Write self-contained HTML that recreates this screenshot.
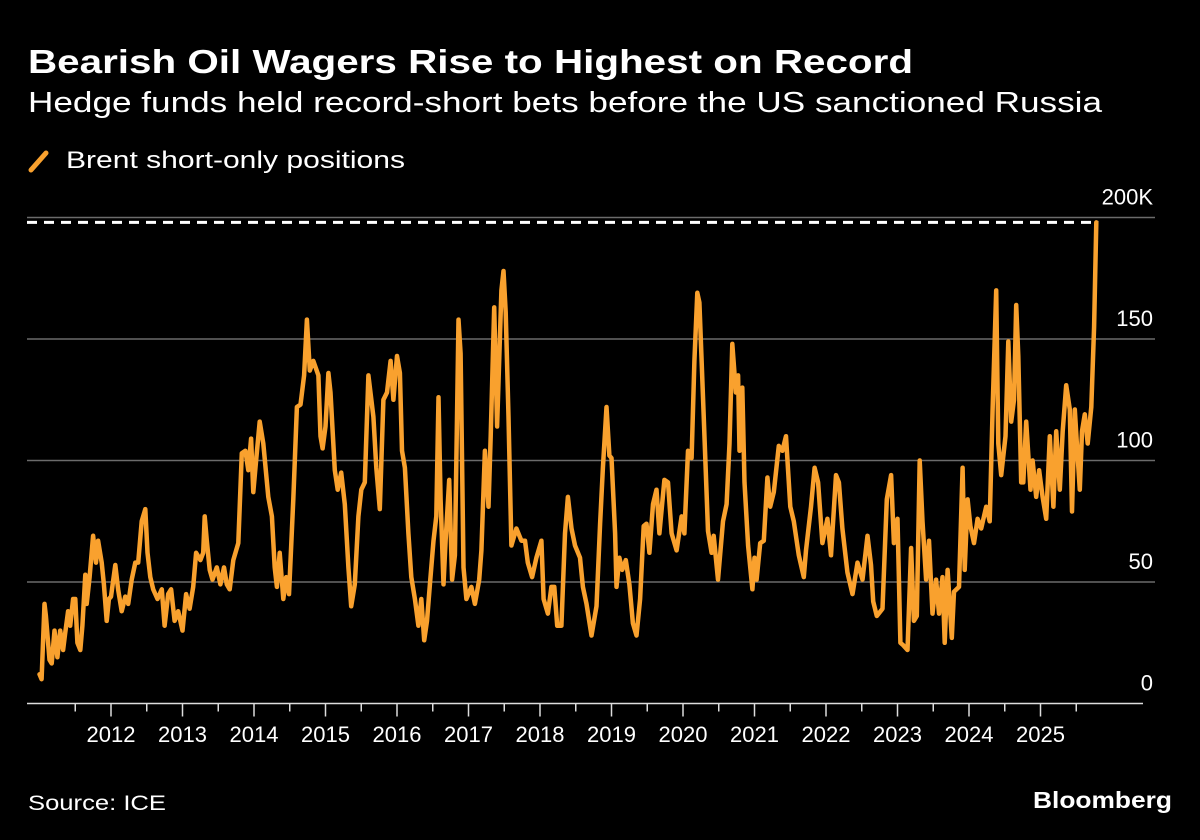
<!DOCTYPE html>
<html><head><meta charset="utf-8">
<style>
html,body{margin:0;padding:0;background:#000;}
svg{display:block;font-family:"Liberation Sans","DejaVu Sans",sans-serif;}
</style></head>
<body>
<svg id="chart" width="1200" height="840" viewBox="0 0 1200 840" xmlns="http://www.w3.org/2000/svg">
<rect width="1200" height="840" fill="#000"/>
<text x="28" y="73" fill="#fff" font-size="33" font-weight="bold" textLength="885" lengthAdjust="spacingAndGlyphs">Bearish Oil Wagers Rise to Highest on Record</text>
<text x="28" y="112" fill="#fff" font-size="29" textLength="1074" lengthAdjust="spacingAndGlyphs">Hedge funds held record-short bets before the US sanctioned Russia</text>
<g>
<line x1="31" y1="170" x2="46" y2="153" stroke="#f9a12e" stroke-width="5" stroke-linecap="round"/>
<text x="66" y="168" fill="#fff" font-size="24" textLength="339" lengthAdjust="spacingAndGlyphs">Brent short-only positions</text>
</g>
<g id="grid"></g>
<g id="ylabels"></g>
<g id="xaxis"></g>
<g id="series"></g>
<text x="28" y="810" fill="#fff" font-size="21" textLength="138" lengthAdjust="spacingAndGlyphs">Source: ICE</text>
<text x="1172" y="808" fill="#fff" font-size="23" font-weight="bold" text-anchor="end" textLength="139" lengthAdjust="spacingAndGlyphs">Bloomberg</text>
</svg>
<script>
const yTicks = [0, 50, 100, 150, 200];
const yTickLabels = ["0", "50", "100", "150", "200K"];
const xYears = [2012,2013,2014,2015,2016,2017,2018,2019,2020,2021,2022,2023,2024,2025];
const recordValue = 198;
const times = [2011.00,2011.03,2011.07,2011.09,2011.14,2011.17,2011.21,2011.25,2011.29,2011.33,2011.36,2011.40,2011.43,2011.47,2011.50,2011.53,2011.57,2011.60,2011.64,2011.66,2011.70,2011.75,2011.79,2011.82,2011.87,2011.90,2011.94,2011.97,2012.00,2012.06,2012.10,2012.15,2012.20,2012.24,2012.29,2012.34,2012.38,2012.43,2012.48,2012.51,2012.55,2012.59,2012.65,2012.71,2012.75,2012.80,2012.84,2012.89,2012.94,2013.00,2013.05,2013.10,2013.15,2013.19,2013.25,2013.29,2013.31,2013.34,2013.38,2013.42,2013.48,2013.53,2013.58,2013.62,2013.66,2013.71,2013.78,2013.83,2013.88,2013.92,2013.96,2013.99,2014.03,2014.08,2014.13,2014.20,2014.25,2014.29,2014.32,2014.36,2014.41,2014.45,2014.49,2014.55,2014.60,2014.65,2014.70,2014.74,2014.78,2014.83,2014.90,2014.93,2014.96,2015.00,2015.04,2015.07,2015.13,2015.17,2015.22,2015.27,2015.32,2015.36,2015.41,2015.46,2015.50,2015.55,2015.60,2015.67,2015.71,2015.76,2015.81,2015.86,2015.91,2015.95,2016.00,2016.04,2016.07,2016.11,2016.16,2016.20,2016.25,2016.30,2016.34,2016.38,2016.42,2016.46,2016.51,2016.55,2016.58,2016.61,2016.65,2016.68,2016.73,2016.77,2016.81,2016.86,2016.89,2016.93,2016.97,2017.04,2017.09,2017.15,2017.18,2017.23,2017.28,2017.31,2017.36,2017.40,2017.46,2017.49,2017.52,2017.56,2017.60,2017.67,2017.74,2017.79,2017.83,2017.89,2017.95,2018.02,2018.05,2018.11,2018.16,2018.20,2018.24,2018.30,2018.35,2018.39,2018.44,2018.49,2018.56,2018.60,2018.65,2018.72,2018.79,2018.84,2018.88,2018.93,2018.97,2019.00,2019.05,2019.07,2019.11,2019.15,2019.20,2019.25,2019.30,2019.35,2019.40,2019.45,2019.49,2019.53,2019.58,2019.63,2019.67,2019.74,2019.79,2019.84,2019.91,2019.98,2020.02,2020.07,2020.12,2020.16,2020.20,2020.23,2020.28,2020.35,2020.40,2020.43,2020.49,2020.56,2020.61,2020.65,2020.69,2020.74,2020.77,2020.79,2020.83,2020.86,2020.91,2020.97,2021.00,2021.03,2021.08,2021.13,2021.18,2021.22,2021.27,2021.34,2021.39,2021.44,2021.50,2021.55,2021.62,2021.69,2021.72,2021.79,2021.84,2021.89,2021.95,2022.02,2022.07,2022.14,2022.18,2022.23,2022.30,2022.37,2022.44,2022.51,2022.58,2022.63,2022.66,2022.71,2022.79,2022.85,2022.91,2022.95,2023.00,2023.04,2023.08,2023.14,2023.19,2023.23,2023.27,2023.31,2023.35,2023.40,2023.44,2023.49,2023.54,2023.58,2023.63,2023.66,2023.70,2023.76,2023.79,2023.86,2023.91,2023.94,2023.98,2024.02,2024.07,2024.12,2024.17,2024.24,2024.29,2024.33,2024.38,2024.41,2024.45,2024.51,2024.55,2024.59,2024.63,2024.66,2024.69,2024.73,2024.76,2024.80,2024.86,2024.89,2024.94,2024.98,2025.03,2025.08,2025.13,2025.18,2025.22,2025.27,2025.31,2025.36,2025.41,2025.44,2025.48,2025.51,2025.55,2025.58,2025.62,2025.66,2025.71,2025.75,2025.78,2025.81];
const values = [12,10,41,36,18,16.5,30,19,30,22,29,38,32,43,43,25,22,32,53,41,52,69,58,67,58,49,34,43,44,57,47,38,44,41,51,58,58,75,80,62,52,47,43,47,32,45,47,34,38,30,45,39,48,62,59,62,77,67,55,51,56,49,56,49,47,59,66,103,104,96,109,87,100,116,107,85,77,56,48,62,43,52,45,84,122,123,135,158,137,141,135,110,105,114,136,128,96,88,95,82,56,40,49,77,88,91,135,118,97,80,125,128,141,125,143,136,104,97,70,52,43,32,43,26,34,49,67,77,126,84,49,67,92,51,61,158,144,56,43,48,41,51,63,104,81,110,163,114,170,178,161,118,65,72,67,67,58,52,60,67,43,37,48,48,32,32,70,85,72,65,60,48,41,28,40,74,97,122,102,101,70,48,60,55,59,49,33,28,43,73,74,62,82,88,70,92,91,70,63,77,70,104,101,141,169,165,126,71,62,69,51,75,82,107,148,128,135,104,130,91,65,47,60,51,66,67,93,81,87,106,104,110,81,75,61,52,63,81,97,91,66,76,61,94,91,72,54,45,58,51,69,57,42,36,39,84,94,66,76,25,24,22,64,34,36,100,75,51,67,37,51,37,52,25,55,27,46,48,97,55,84,73,66,76,72,81,75,121,170,107,94,110,149,116,125,164,143,91,91,116,88,100,85,96,85,76,110,81,112,88,112,131,121,79,121,106,88,112,119,107,122,155,198];

const svgNS = "http://www.w3.org/2000/svg";
const X0 = 39.5, YEAR_W = 71.5, Y0 = 703.5, PX_PER_UNIT = 2.43;
const PLOT_L = 27, PLOT_R = 1155, AXIS_R = 1143;
function xScale(t){ return X0 + (t - 2011) * YEAR_W; }
function yScale(v){ return Y0 - v * PX_PER_UNIT; }
function mk(tag, attrs, parent){
  const el = document.createElementNS(svgNS, tag);
  for (const k in attrs) el.setAttribute(k, attrs[k]);
  parent.appendChild(el);
  return el;
}
const grid = document.getElementById('grid');
const ylabels = document.getElementById('ylabels');
const xaxis = document.getElementById('xaxis');
const series = document.getElementById('series');

yTicks.forEach((v, i) => {
  if (v !== 0) {
    const gl = mk('line', {x1: PLOT_L, x2: PLOT_R, y1: yScale(v), y2: yScale(v), stroke: '#6b6b6b', 'stroke-width': 1.5}, grid);
    
    
  }
  const tx = mk('text', {x: 1153, y: yScale(v) - 13, fill: '#fff', 'font-size': 22, 'text-anchor': 'end'}, ylabels);
  tx.textContent = yTickLabels[i];
  
  
});

const axisLine = mk('line', {x1: PLOT_L, x2: AXIS_R, y1: Y0, y2: Y0, stroke: '#ddd', 'stroke-width': 1.5}, xaxis);



xYears.forEach(yr => {
  const x = xScale(yr);
  const tk = mk('line', {x1: x, x2: x, y1: Y0, y2: Y0 + 13, stroke: '#ddd', 'stroke-width': 1.5}, xaxis);
  
  
  const lb = mk('text', {x: x, y: 742, fill: '#fff', 'font-size': 22, 'text-anchor': 'middle'}, xaxis);
  lb.textContent = String(yr);
  
  
});
for (let yr = 2011; yr <= 2025; yr++) {
  const x = xScale(yr + 0.5);
  if (x > AXIS_R) continue;
  const mt = mk('line', {x1: x, x2: x, y1: Y0, y2: Y0 + 8, stroke: '#ddd', 'stroke-width': 1.5}, xaxis);
  
  
}

const rec = mk('line', {x1: PLOT_L, x2: xScale(times[times.length - 1]), y1: yScale(recordValue), y2: yScale(recordValue), stroke: '#fff', 'stroke-width': 3, 'stroke-dasharray': '10 7'}, series);



let d = '';
times.forEach((t, i) => { d += (i ? 'L' : 'M') + xScale(t).toFixed(1) + ',' + yScale(values[i]).toFixed(1); });
const path = mk('path', {d: d, fill: 'none', stroke: '#f9a12e', 'stroke-width': 4.5, 'stroke-linejoin': 'round', 'stroke-linecap': 'round'}, series);


</script>
</body></html>
